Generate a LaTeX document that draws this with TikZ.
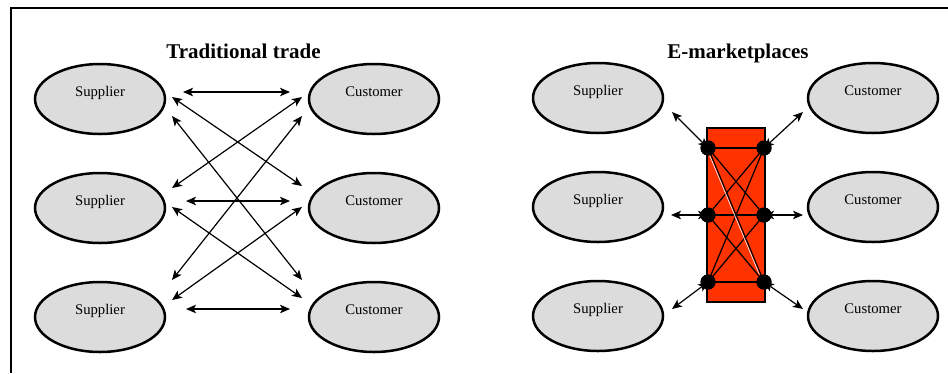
\documentclass[tikz,border=0pt]{standalone}
\usepackage{fontspec}
\setmainfont{Liberation Serif}
\usetikzlibrary{arrows.meta}
\usetikzlibrary{shapes.geometric}
\usetikzlibrary{calc}
\definecolor{marketred}{RGB}{255,51,0}
\definecolor{partygray}{RGB}{220,220,220}
\tikzstyle{party} = [ellipse, minimum width=130pt, minimum height=70pt, inner sep=0pt, outer sep=0pt, text height=10pt, text depth=16pt, line width=2.5pt, draw=black, fill=partygray, font=\fontsize{14.7}{16}\selectfont]
\tikzstyle{heading} = [font=\fontsize{21}{24}\selectfont\bfseries, anchor=base]
\tikzstyle{link} = [<->, >={Stealth[length=10pt,width=8.5pt,inset=2.5pt]}, line width=1.2pt]
\tikzstyle{hubbox} = [rectangle, minimum width=58pt, minimum height=174pt, draw=black, line width=2pt, fill=marketred]
\tikzstyle{hubdot} = [circle, fill=black, minimum size=15pt, inner sep=0pt]
\tikzstyle{wire} = [line width=1.2pt]
\newcommand{\gap}{7pt}
\newcommand{\rise}{7pt}

\begin{document}
\begin{tikzpicture}[x=1pt, y=1pt, node distance=109pt]

  \useasboundingbox (0,0) rectangle (948,-373);
  \draw [line width=2pt] (11,-373) -- (11,-8) -- (948,-8);

  % Traditional trade
  \node (head1) [heading] at (243.5,-58) {Traditional trade};

  \node (sup1) [party] at (100,-99) {Supplier};
  \node (sup2) [party, below of=sup1] {Supplier};
  \node (sup3) [party, below of=sup2] {Supplier};
  \node (cus1) [party] at (374,-99) {Customer};
  \node (cus2) [party, below of=cus1] {Customer};
  \node (cus3) [party, below of=cus2] {Customer};

  % straight across
  \draw [link] ([xshift=18pt,yshift=\rise]sup1.east) -- ([xshift=-19pt,yshift=\rise]cus1.west);
  \draw [link] ([xshift=21pt,yshift=\rise]sup2.east) -- ([xshift=-19pt,yshift=\rise]cus2.west);
  \draw [link] ([xshift=21pt,yshift=8pt]sup3.east) -- ([xshift=-19pt,yshift=8pt]cus3.west);

  % crossing
  \draw [link] ([xshift=\gap,yshift=2pt]sup1.east) -- ([xshift=-\gap,yshift=22pt]cus2.west);
  \draw [link] ([xshift=\gap,yshift=-17pt]sup1.east) -- ([xshift=-\gap,yshift=37pt]cus3.west);
  \draw [link] ([xshift=\gap,yshift=20pt]sup2.east) -- ([xshift=-\gap,yshift=2pt]cus1.west);
  \draw [link] ([xshift=\gap,yshift=1pt]sup2.east) -- ([xshift=-\gap,yshift=19pt]cus3.west);
  \draw [link] ([xshift=\gap,yshift=37pt]sup3.east) -- ([xshift=-\gap,yshift=-17pt]cus1.west);
  \draw [link] ([xshift=\gap,yshift=17pt]sup3.east) -- ([xshift=-\gap,yshift=1pt]cus2.west);

  % E-marketplaces
  \node (head2) [heading] at (738,-58) {E-marketplaces};

  \node (esup1) [party] at (598,-98) {Supplier};
  \node (esup2) [party, below of=esup1] {Supplier};
  \node (esup3) [party, below of=esup2] {Supplier};
  \node (ecus1) [party] at (873,-98) {Customer};
  \node (ecus2) [party, below of=ecus1] {Customer};
  \node (ecus3) [party, below of=ecus2] {Customer};

  \node (hub) [hubbox] at (736,-215) {};
  \node (l1) [hubdot] at ([xshift=-28pt,yshift=67pt]hub.center) {};
  \node (l2) [hubdot] at ([xshift=-28pt]hub.center) {};
  \node (l3) [hubdot] at ([xshift=-28pt,yshift=-67pt]hub.center) {};
  \node (r1) [hubdot] at ([xshift=28pt,yshift=67pt]hub.center) {};
  \node (r2) [hubdot] at ([xshift=28pt]hub.center) {};
  \node (r3) [hubdot] at ([xshift=28pt,yshift=-67pt]hub.center) {};

  \foreach \i in {1,2,3}
    \foreach \j in {1,2,3}
      \draw [wire] (l\i.center) -- (r\j.center);
  \draw [white, line width=0.6pt, shorten <=8pt, shorten >=8pt]
        ([xshift=-1.5pt]l1.center) -- ([xshift=-1.5pt]r3.center);

  % out to the parties
  \draw [link] (l1.center) -- ++(-36pt,36pt);
  \draw [link] (l2.center) -- ++(-37pt,0);
  \draw [link] (l3.center) -- ++(-36pt,-27pt);
  \draw [link] (r1.center) -- ++(39pt,36pt);
  \draw [link] (r2.center) -- ++(39pt,0);
  \draw [link] (r3.center) -- ++(39pt,-27pt);

  \foreach \n in {l1,l2,l3,r1,r2,r3}
    \fill (\n) circle (7.5pt);

\end{tikzpicture}
\end{document}
